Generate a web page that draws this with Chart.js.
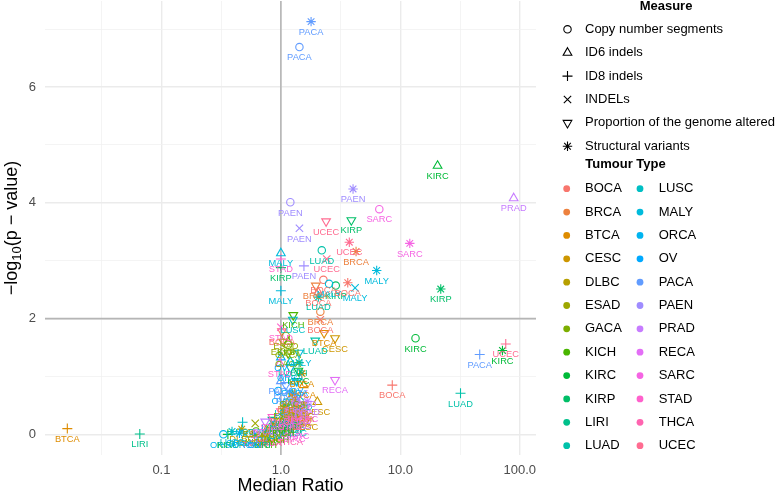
<!DOCTYPE html>
<html><head><meta charset="utf-8">
<script src="https://cdn.jsdelivr.net/npm/chart.js"></script>
<style>html,body{margin:0;padding:0;background:#fff;}#wrap{position:relative;width:777px;height:495px;}canvas{display:block;}</style>
</head><body><div id="wrap"><canvas id="c" width="777" height="495"></canvas></div>
<script>
// ---------------- data ----------------
const tumourTypes = ['BOCA','BRCA','BTCA','CESC','DLBC','ESAD','GACA','KICH','KIRC','KIRP','LIRI','LUAD','LUSC','MALY','ORCA','OV','PACA','PAEN','PRAD','RECA','SARC','STAD','THCA','UCEC'];
const measures = ['Copy number segments','ID6 indels','ID8 indels','INDELs','Proportion of the genome altered','Structural variants'];

// median ratio / -log10(p) per tumour type (order of tumourTypes)
const cnsRatio   = [2.27,2.14,1.35,1.25,0.55,1.10,1.15,0.62,13.4,2.88,1.05,2.20,1.12,2.53,0.33,0.95,1.43,1.20,0.70,1.40,6.67,1.30,0.60,1.45];
const cnsLogP    = [2.67,2.12,0.45,0.40,0.02,1.70,1.55,0.05,1.66,2.57,0.15,3.18,0.55,2.60,0.00,0.75,6.69,4.01,0.02,0.35,3.89,0.30,0.00,0.50];
const id6Ratio   = [2.06,1.20,1.55,2.02,0.75,0.95,1.08,1.15,20.5,1.30,0.80,1.20,1.10,1.00,1.30,1.00,1.00,1.35,88.9,1.15,1.25,0.98,0.85,1.40];
const id6LogP    = [2.45,0.62,0.85,0.56,0.05,0.20,0.30,1.60,4.64,0.25,0.10,1.25,0.45,3.13,0.90,1.33,0.92,0.60,4.08,0.35,0.30,1.22,0.05,0.40];
const id8Ratio   = [8.56,1.30,0.0163,1.45,0.85,0.90,1.10,0.75,0.36,1.00,0.0659,31.9,0.478,1.00,1.05,0.70,46.2,1.56,1.40,1.15,1.25,1.00,0.80,76.3];
const id8LogP    = [0.85,0.70,0.10,0.38,0.12,0.18,0.28,0.00,0.00,2.88,0.005,0.71,0.21,2.48,0.35,0.08,1.38,2.91,0.32,0.20,0.10,3.03,0.02,1.56];
const indelRatio = [2.14,1.35,1.50,1.60,0.80,0.61,1.05,0.95,1.10,1.25,0.70,1.45,1.30,4.18,0.50,0.90,1.15,1.43,1.55,1.40,1.35,1.00,1.20,2.42];
const indelLogP  = [1.98,0.55,0.45,0.30,0.10,0.19,0.40,0.08,0.25,0.35,0.00,0.65,0.20,2.53,0.00,0.15,0.75,3.56,0.70,0.60,0.15,1.85,0.05,3.03];
const pgaRatio   = [1.02,1.96,2.30,2.84,1.50,1.05,1.15,1.27,1.40,3.89,0.85,1.94,1.26,1.42,1.20,1.36,1.10,1.30,0.74,2.84,1.60,0.85,1.00,2.39];
const pgaLogP    = [1.78,2.57,1.75,1.66,0.50,1.60,1.40,2.06,1.10,3.70,0.25,1.62,1.98,1.41,1.15,0.92,0.85,0.50,0.22,0.94,0.45,0.30,0.40,3.68];
const svRatio    = [3.63,4.26,1.50,1.30,0.47,1.10,1.25,1.05,71.6,21.8,1.42,2.06,0.39,6.34,0.45,0.60,1.79,4.02,1.66,1.35,12.0,1.20,1.40,3.74];
const svLogP     = [2.62,3.16,1.05,0.60,0.09,0.50,0.70,0.20,1.45,2.51,1.24,2.37,0.05,2.83,0.02,0.00,7.13,4.24,0.57,0.40,3.30,0.30,0.45,3.32];

const xTickValues = [0.1, 1, 10, 100];
const xTickLabels = ['0.1', '1.0', '10.0', '100.0'];
const xMinorTicks = [0.0316, 0.316, 3.16, 31.6];
const yTickValues = [0, 2, 4, 6];
const yMinorTicks = [1, 3, 5, 7];
const refRatio = 1;
const refLogP = 2;

// ---------------- styling ----------------
const FONT = "'Liberation Sans', Arial, Helvetica, sans-serif";
function hclHex(h, c, l) {
  const WY = 100, un = 0.1978398, vn = 0.4683363;
  const hr = h * Math.PI / 180;
  const U = c * Math.cos(hr), V = c * Math.sin(hr);
  const Y = WY * (l > 7.999592 ? Math.pow((l + 16) / 116, 3) : l / 903.3);
  const u = U / (13 * l) + un, v = V / (13 * l) + vn;
  const X = 9.0 * Y * u / (4 * v);
  const Z = -X / 3 - 5 * Y + 3 * Y / v;
  const gam = t => (t <= 0.0031308 ? 12.92 * t : 1.055 * Math.pow(t, 1 / 2.4) - 0.055);
  const r = gam((3.240479 * X - 1.53715 * Y - 0.498535 * Z) / WY);
  const g = gam((-0.969256 * X + 1.875992 * Y + 0.041556 * Z) / WY);
  const b = gam((0.055648 * X - 0.204043 * Y + 1.057311 * Z) / WY);
  const hx = t => { const k = Math.round(Math.max(0, Math.min(1, t)) * 255); return k.toString(16).padStart(2, '0'); };
  return '#' + hx(r) + hx(g) + hx(b);
}
const tumourColours = tumourTypes.map((t, i) => hclHex(15 + i * 360 / tumourTypes.length, 100, 65));

const ratioSeries = [cnsRatio, id6Ratio, id8Ratio, indelRatio, pgaRatio, svRatio];
const logpSeries = [cnsLogP, id6LogP, id8LogP, indelLogP, pgaLogP, svLogP];
const shapeStyle = [
  {style: 'circle', r: 3.7, rot: 0},
  {style: 'triangle', r: 5, rot: 0},
  {style: 'cross', r: 5, rot: 0},
  {style: 'crossRot', r: 5.2, rot: 0},
  {style: 'triangle', r: 5, rot: 180},
  {style: 'star', r: 4.7, rot: 0}
];

const datasets = measures.map((m, k) => ({
  label: m,
  data: tumourTypes.map((t, i) => ({x: ratioSeries[k][i], y: logpSeries[k][i], tumour: t})),
  pointStyle: shapeStyle[k].style,
  pointRadius: shapeStyle[k].r,
  pointHoverRadius: shapeStyle[k].r,
  pointRotation: shapeStyle[k].rot,
  pointBorderColor: tumourColours,
  pointBackgroundColor: 'rgba(0,0,0,0)',
  pointBorderWidth: 1.1,
  showLine: false
}));

// axis limits: data range + 5% expansion (log for x)
const allX = ratioSeries.flat().map(v => Math.log10(v));
const allY = logpSeries.flat();
const lx0 = Math.min(...allX), lx1 = Math.max(...allX);
const y0 = Math.min(...allY), y1 = Math.max(...allY);
const xMin = Math.pow(10, lx0 - 0.05 * (lx1 - lx0));
const xMax = Math.pow(10, lx1 + 0.05 * (lx1 - lx0));
const yMin = y0 - 0.05 * (y1 - y0);
const yMax = y1 + 0.05 * (y1 - y0);

function drawShape(ctx, style, x, y, r, rot) {
  ctx.beginPath();
  if (style === 'circle') {
    ctx.arc(x, y, r, 0, Math.PI * 2);
  } else if (style === 'triangle') {
    let a = rot * Math.PI / 180;
    for (let j = 0; j < 3; j++) {
      const px = x + Math.sin(a) * r, py = y - Math.cos(a) * r;
      if (j === 0) ctx.moveTo(px, py); else ctx.lineTo(px, py);
      a += 2 * Math.PI / 3;
    }
    ctx.closePath();
  } else {
    const angs = style === 'cross' ? [0] : style === 'crossRot' ? [Math.PI / 4] : [0, Math.PI / 4];
    angs.forEach(a0 => {
      const dx = Math.cos(a0) * r, dy = Math.sin(a0) * r;
      ctx.moveTo(x - dx, y - dy); ctx.lineTo(x + dx, y + dy);
      ctx.moveTo(x + dy, y - dx); ctx.lineTo(x - dy, y + dx);
    });
  }
  ctx.stroke();
}

const overlay = {
  id: 'overlay',
  beforeDatasetsDraw(chart) {
    const {ctx, chartArea: ca, scales} = chart;
    ctx.save();
    ctx.strokeStyle = '#B5B5B5';
    ctx.lineWidth = 1.6;
    const vx = scales.x.getPixelForValue(refRatio);
    const hy = scales.y.getPixelForValue(refLogP);
    ctx.beginPath();
    ctx.moveTo(vx, ca.top); ctx.lineTo(vx, ca.bottom);
    ctx.moveTo(ca.left, hy); ctx.lineTo(ca.right, hy);
    ctx.stroke();
    ctx.restore();
  },
  afterDatasetsDraw(chart) {
    const {ctx, chartArea: ca} = chart;
    ctx.save();
    ctx.beginPath();
    ctx.rect(ca.left, ca.top, ca.right - ca.left, ca.bottom - ca.top);
    ctx.clip();
    ctx.font = '9.3px ' + FONT;
    ctx.textAlign = 'center';
    ctx.textBaseline = 'middle';
    chart.data.datasets.forEach((ds, k) => {
      const meta = chart.getDatasetMeta(k);
      meta.data.forEach((el, i) => {
        ctx.fillStyle = tumourColours[i];
        ctx.fillText(ds.data[i].tumour, el.x, el.y + 10.7);
      });
    });
    ctx.restore();
  },
  afterDraw(chart) {
    const {ctx, chartArea: ca} = chart;
    ctx.save();
    // axis titles
    ctx.fillStyle = '#000';
    ctx.font = '18px ' + FONT;
    ctx.textAlign = 'center';
    ctx.textBaseline = 'middle';
    ctx.fillText('Median Ratio', (ca.left + ca.right) / 2, 486);
    // y title with subscript
    ctx.save();
    ctx.translate(12, (ca.top + ca.bottom) / 2);
    ctx.rotate(-Math.PI / 2);
    const p1 = '\u2212log', p2 = '10', p3 = '(p \u2212 value)';
    ctx.font = '18px ' + FONT;
    const w1 = ctx.measureText(p1).width, w3 = ctx.measureText(p3).width;
    ctx.font = '13px ' + FONT;
    const w2 = ctx.measureText(p2).width;
    let sx = -(w1 + w2 + w3) / 2;
    ctx.textAlign = 'left';
    ctx.font = '18px ' + FONT;
    ctx.fillText(p1, sx, 0); sx += w1;
    ctx.font = '13px ' + FONT;
    ctx.fillText(p2, sx, 5); sx += w2;
    ctx.font = '18px ' + FONT;
    ctx.fillText(p3, sx, 0);
    ctx.restore();

    // legend: Measure
    ctx.textBaseline = 'middle';
    ctx.textAlign = 'center';
    ctx.fillStyle = '#000';
    ctx.font = 'bold 13px ' + FONT;
    ctx.fillText('Measure', 666, 6.5);
    ctx.textAlign = 'left';
    ctx.font = '13px ' + FONT;
    measures.forEach((m, k) => {
      const y = 29.3 + k * 23.4;
      ctx.strokeStyle = '#000';
      ctx.lineWidth = 1.1;
      drawShape(ctx, shapeStyle[k].style, 567.5, y, shapeStyle[k].r, shapeStyle[k].rot);
      ctx.fillStyle = '#000';
      ctx.fillText(m, 585, y);
    });
    // legend: Tumour Type
    ctx.textAlign = 'center';
    ctx.font = 'bold 13px ' + FONT;
    ctx.fillText('Tumour Type', 625.5, 164.5);
    ctx.textAlign = 'left';
    ctx.font = '13px ' + FONT;
    const perCol = Math.ceil(tumourTypes.length / 2);
    tumourTypes.forEach((t, i) => {
      const col = Math.floor(i / perCol), row = i % perCol;
      const y = 188.7 + row * 23.36;
      const dx = col ? 640 : 566.7;
      ctx.fillStyle = tumourColours[i];
      ctx.beginPath(); ctx.arc(dx, y, 3.4, 0, Math.PI * 2); ctx.fill();
      ctx.fillStyle = '#000';
      ctx.fillText(t, col ? 658.7 : 585, y);
    });
    ctx.restore();
  }
};

const gridColMajor = '#EBEBEB', gridColMinor = '#F1F1F1';
new Chart(document.getElementById('c'), {
  type: 'scatter',
  data: {datasets},
  options: {
    responsive: false,
    animation: false,
    events: [],
    layout: {autoPadding: false, padding: {top: 1, right: 241, bottom: 0, left: 0}},
    plugins: {legend: {display: false}, tooltip: {enabled: false}},
    scales: {
      x: {
        type: 'logarithmic',
        min: xMin, max: xMax,
        afterBuildTicks: s => { s.ticks = xMinorTicks.concat(xTickValues).sort((a, b) => a - b).map(v => ({value: v})); },
        afterFit: s => { s.height = 40; s.paddingLeft = 0; s.paddingRight = 0; },
        ticks: {
          autoSkip: false, maxRotation: 0, minRotation: 0,
          padding: 8, color: '#4D4D4D', font: {family: FONT, size: 13},
          callback: v => { const i = xTickValues.indexOf(v); return i >= 0 ? xTickLabels[i] : ''; }
        },
        grid: {
          drawTicks: false,
          color: c => (xTickValues.includes(c.tick && c.tick.value) ? gridColMajor : gridColMinor),
          lineWidth: c => (xTickValues.includes(c.tick && c.tick.value) ? 1.4 : 0.8)
        },
        border: {display: false}
      },
      y: {
        type: 'linear',
        min: yMin, max: yMax,
        afterBuildTicks: s => { s.ticks = yMinorTicks.concat(yTickValues).sort((a, b) => a - b).map(v => ({value: v})); },
        afterFit: s => { s.width = 45; s.paddingTop = 0; s.paddingBottom = 0; },
        ticks: {
          padding: 9, color: '#4D4D4D', font: {family: FONT, size: 13},
          callback: v => (yTickValues.includes(v) ? String(v) : '')
        },
        grid: {
          drawTicks: false,
          color: c => (yTickValues.includes(c.tick && c.tick.value) ? gridColMajor : gridColMinor),
          lineWidth: c => (yTickValues.includes(c.tick && c.tick.value) ? 1.4 : 0.8)
        },
        border: {display: false}
      }
    }
  },
  plugins: [overlay]
});
</script></body></html>
